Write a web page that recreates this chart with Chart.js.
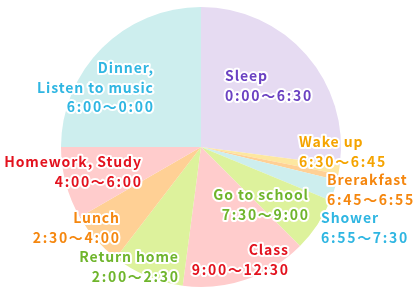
<!DOCTYPE html>
<html>
<head>
<meta charset="utf-8">
<script src="https://cdn.jsdelivr.net/npm/chart.js@4/dist/chart.umd.min.js"></script>
<style>
  html, body { margin: 0; padding: 0; background: #fff; }
  #wrap { width: 419px; height: 298px; }
</style>
</head>
<body>
<div id="wrap"><canvas id="c" width="419" height="298"></canvas></div>
<script>
// A day's schedule, slice sizes in minutes, clockwise from midnight
const categories = ['Sleep', 'Wake up', 'Brerakfast', 'Shower', 'Go to school',
                    'Class', 'Return home', 'Lunch', 'Homework, Study', 'Dinner,\nListen to music'];
const minutes = [390, 15, 10, 35, 90, 210, 120, 90, 120, 360];
const timeRanges = ['0:00～6:30', '6:30～6:45', '6:45～6:55', '6:55～7:30', '7:30～9:00',
                    '9:00～12:30', '2:00～2:30', '2:30～4:00', '4:00～6:00', '6:00～0:00'];

// slice fills and label colours
const sliceColors = ['#e6dbf2', '#fde7a0', '#ffd095', '#cdeeee', '#ddf29c',
                     '#ffcccc', '#ddf29c', '#ffd095', '#ffcccc', '#cdeeee'];
const textColors = ['#6b42c2', '#f5a400', '#f5870f', '#2fb6e2', '#6fb52c',
                    '#e3121e', '#6fb52c', '#f5870f', '#e3121e', '#2fb6e2'];

// label anchor (relative to pie centre) and alignment
const labelPlace = [
  { dx: 24,  dy: -71, align: 'left' },
  { dx: 98,  dy: -5,  align: 'left' },
  { dx: 126, dy: 33,  align: 'left' },
  { dx: 120, dy: 71,  align: 'left' },
  { dx: 107, dy: 48,  align: 'right' },
  { dx: 87,  dy: 103, align: 'right' },
  { dx: -23, dy: 110, align: 'right' },
  { dx: -82, dy: 71,  align: 'right' },
  { dx: -60, dy: 15,  align: 'right' },
  { dx: -48, dy: -79, align: 'right' }
];

const FONT = 'bold 14px "Noto Sans CJK JP", "Noto Sans", sans-serif';
const LINE_H = 19.5;
const NAME_SPACING = 0.9;
const TIME_SPACING = 1.7;

const sliceLabels = {
  id: 'sliceLabels',
  afterDatasetsDraw(chart) {
    const ctx = chart.ctx;
    const arc = chart.getDatasetMeta(0).data[0];
    const cx = arc.x, cy = arc.y;
    ctx.save();
    ctx.font = FONT;
    ctx.textBaseline = 'middle';
    ctx.lineJoin = 'round';
    ctx.lineWidth = 4;
    ctx.strokeStyle = '#ffffff';
    categories.forEach((name, i) => {
      const p = labelPlace[i];
      const names = name.split('\n');
      const lines = names.concat([timeRanges[i]]);
      ctx.textAlign = p.align;
      ctx.fillStyle = textColors[i];
      lines.forEach((t, k) => {
        const sp = k < names.length ? NAME_SPACING : TIME_SPACING;
        ctx.letterSpacing = sp + 'px';
        // trailing spacing would push right-aligned text left
        const x = cx + p.dx + (p.align === 'right' ? sp : 0);
        const y = cy + p.dy + k * LINE_H;
        ctx.strokeText(t, x, y);
        ctx.fillText(t, x, y);
      });
    });
    ctx.restore();
  }
};

new Chart(document.getElementById('c'), {
  type: 'pie',
  data: {
    labels: categories,
    datasets: [{
      data: minutes,
      backgroundColor: sliceColors,
      borderWidth: 0,
      hoverOffset: 0,
      offset: 0
    }]
  },
  options: {
    responsive: false,
    animation: false,
    layout: { padding: { left: 61, top: 7, right: 78, bottom: 11 } },
    plugins: { legend: { display: false }, tooltip: { enabled: false } }
  },
  plugins: [sliceLabels]
});
</script>
</body>
</html>
